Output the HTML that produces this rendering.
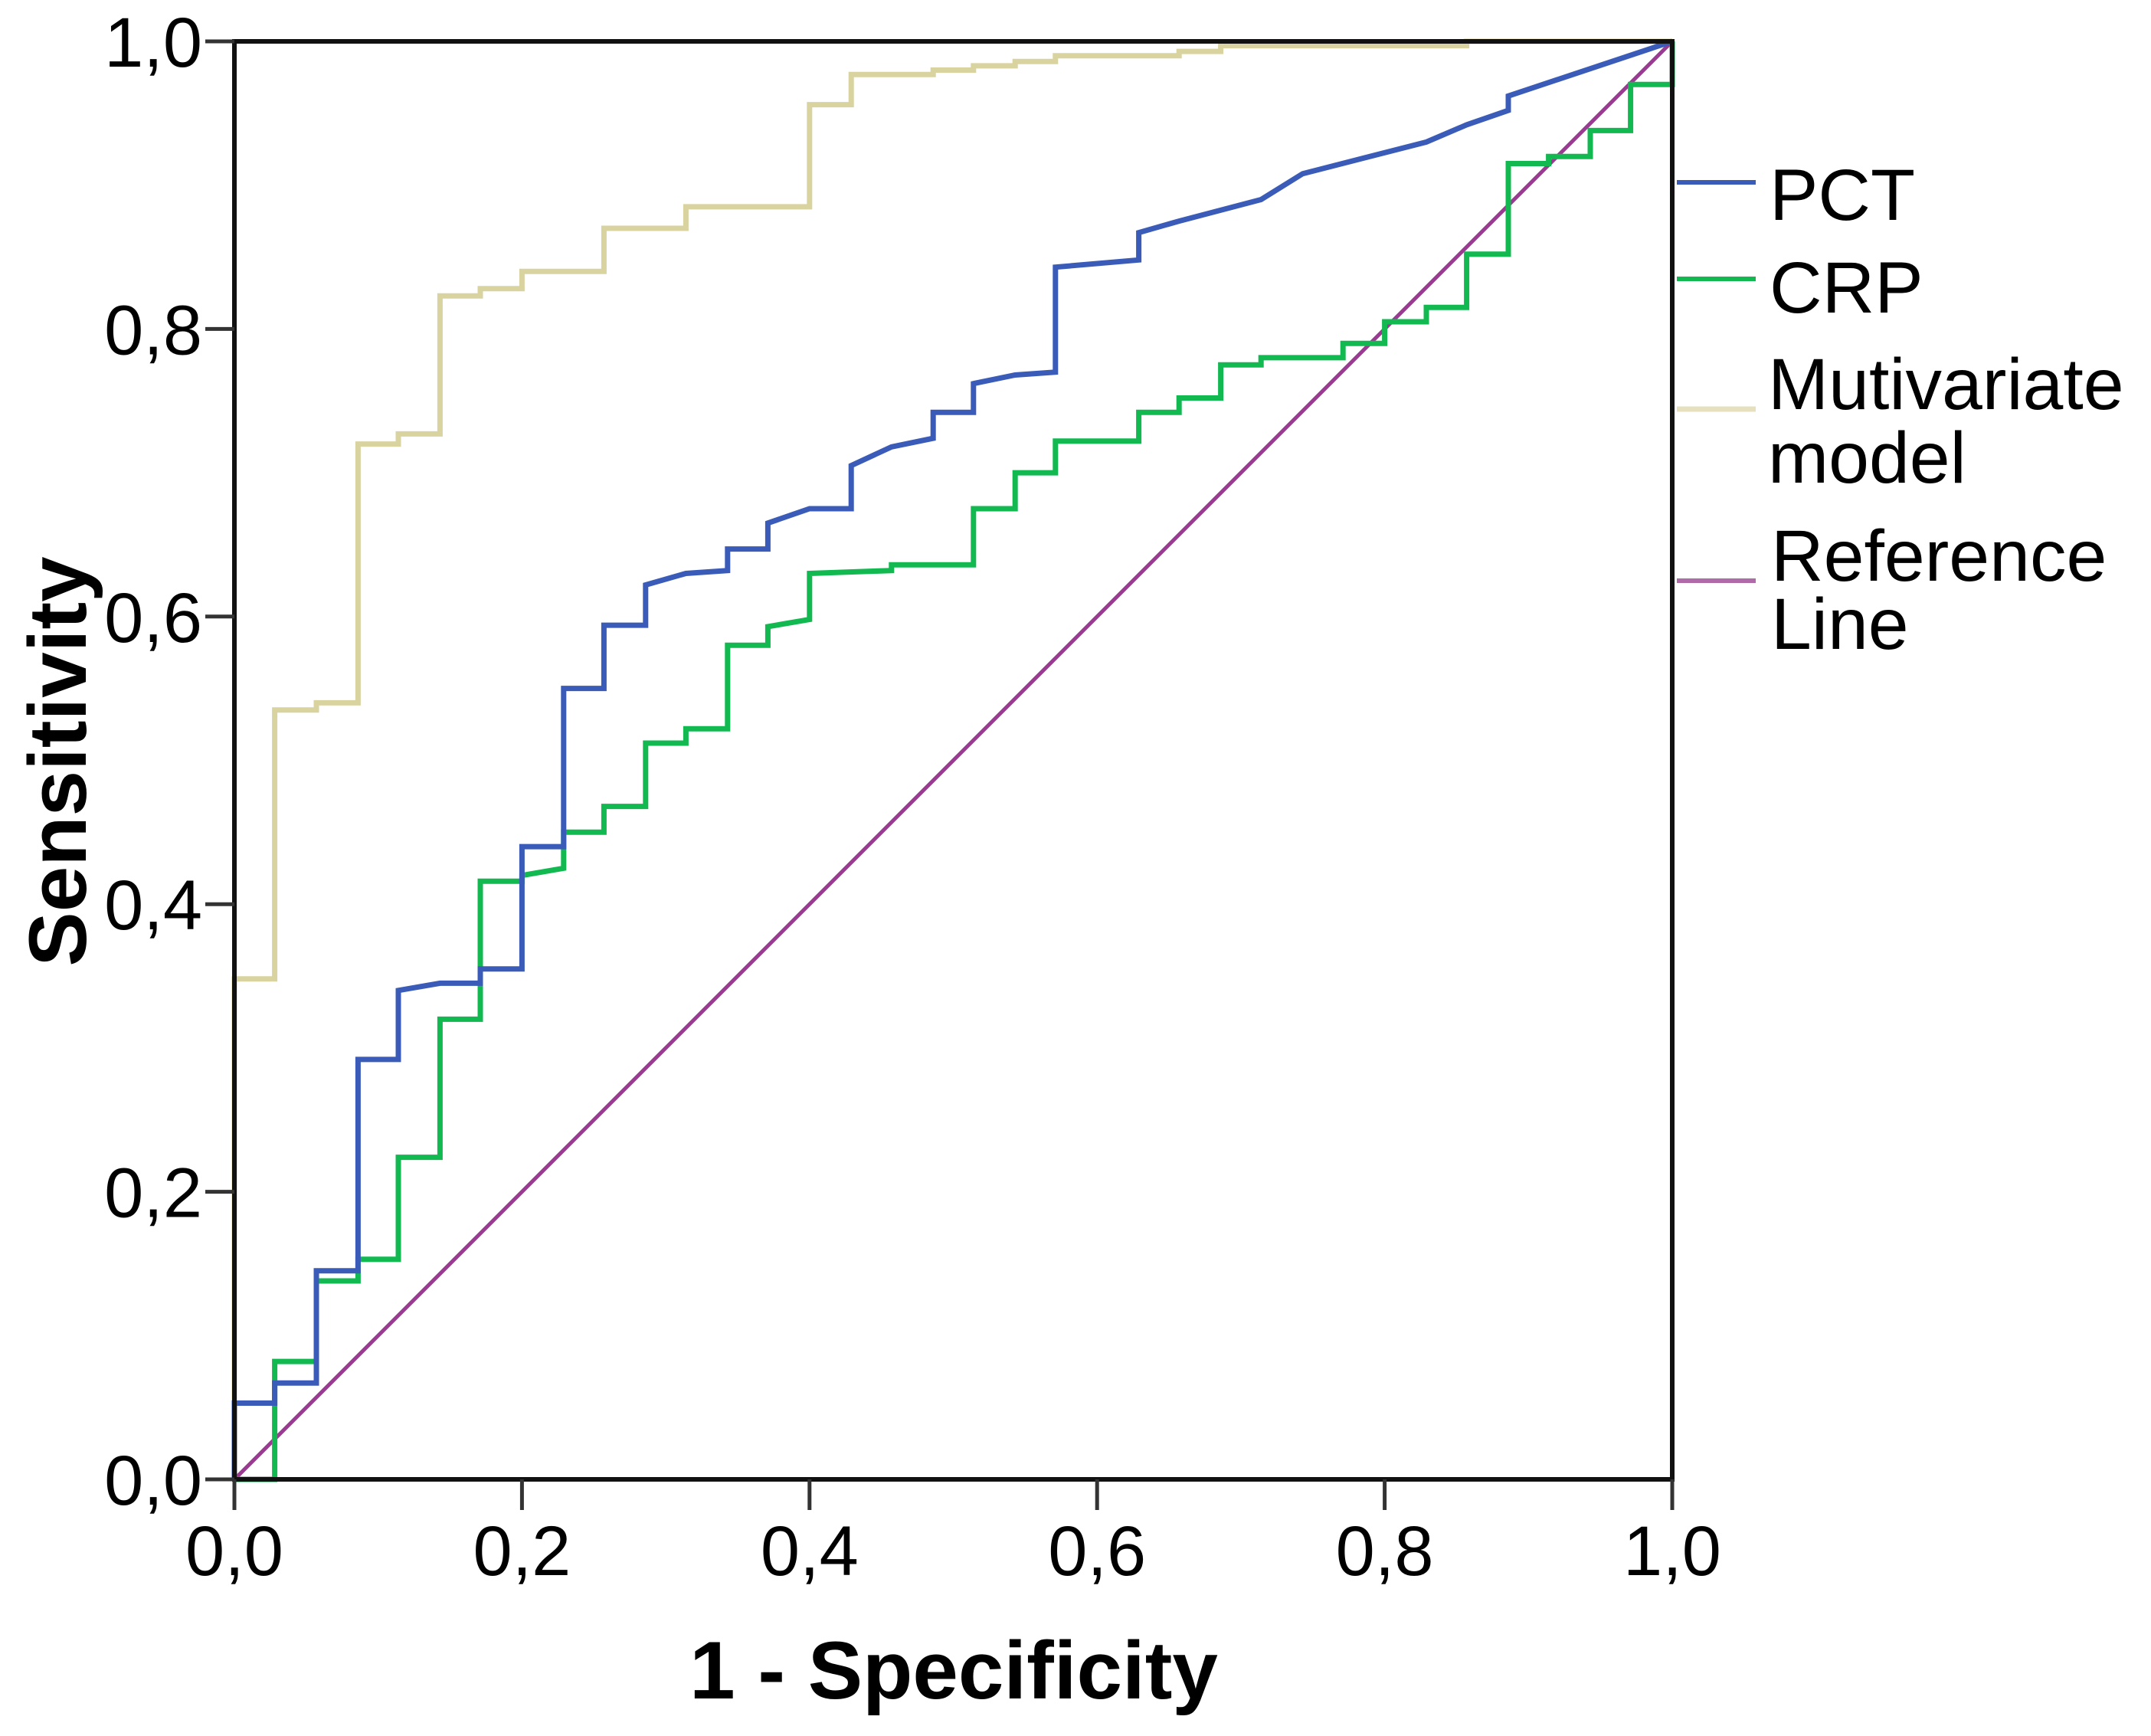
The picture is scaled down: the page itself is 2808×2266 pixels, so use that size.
<!DOCTYPE html>
<html><head><meta charset="utf-8"><style>
html,body{margin:0;padding:0;background:#fff;}
svg{display:block;}
text{font-family:"Liberation Sans",Arial,sans-serif;fill:#000;}
</style></head>
<body>
<svg id="chart" width="2808" height="2266" viewBox="0 0 2808 2266">
<g id="plot"></g>
<g id="axes"></g>
<text x="1245" y="2217" font-size="107" font-weight="bold" text-anchor="middle">1 - Specificity</text>
<text transform="translate(112,994) rotate(-90)" font-size="107" font-weight="bold" text-anchor="middle">Sensitivity</text>
<g>
  <line x1="2189" y1="238" x2="2292" y2="238" stroke="#3a5cb8" stroke-width="6"/>
  <text x="2310" y="287" font-size="95">PCT</text>
  <line x1="2189" y1="364" x2="2292" y2="364" stroke="#12b850" stroke-width="6"/>
  <text x="2310" y="408" font-size="95">CRP</text>
  <line x1="2189" y1="534" x2="2292" y2="534" stroke="#e6e0bf" stroke-width="7"/>
  <text x="2308" y="534" font-size="95">Mutivariate</text>
  <text x="2308" y="630" font-size="95">model</text>
  <line x1="2189" y1="758" x2="2292" y2="758" stroke="#b06aa8" stroke-width="6"/>
  <text x="2312" y="758" font-size="95">Reference</text>
  <text x="2312" y="847" font-size="95">Line</text>
</g>
</svg>
<script>
const tickValues = [0, 0.2, 0.4, 0.6, 0.8, 1.0];
const tickLabels = ["0,0","0,2","0,4","0,6","0,8","1,0"];
const multiFpr = [0,0,0.028,0.028,0.057,0.057,0.086,0.086,0.114,0.114,0.143,0.143,0.171,0.171,0.2,0.2,0.257,0.257,0.314,0.314,0.4,0.4,0.429,0.429,0.486,0.486,0.514,0.514,0.543,0.543,0.571,0.571,0.657,0.657,0.686,0.686,0.857,0.857,1];
const multiTpr = [0,0.348,0.348,0.535,0.535,0.540,0.540,0.720,0.720,0.727,0.727,0.823,0.823,0.828,0.828,0.840,0.840,0.870,0.870,0.885,0.885,0.956,0.956,0.977,0.977,0.980,0.980,0.983,0.983,0.986,0.986,0.990,0.990,0.993,0.993,0.997,0.997,1,1];
const pctFpr = [0,0,0.028,0.028,0.057,0.057,0.086,0.086,0.114,0.114,0.143,0.171,0.171,0.2,0.2,0.229,0.229,0.257,0.257,0.286,0.286,0.314,0.343,0.343,0.371,0.371,0.4,0.429,0.429,0.457,0.486,0.486,0.514,0.514,0.543,0.571,0.571,0.629,0.629,0.657,0.714,0.743,0.829,0.857,0.886,0.886,1];
const pctTpr = [0,0.053,0.053,0.067,0.067,0.145,0.145,0.292,0.292,0.340,0.345,0.345,0.355,0.355,0.44,0.44,0.55,0.55,0.594,0.594,0.622,0.630,0.632,0.647,0.647,0.665,0.675,0.675,0.705,0.718,0.724,0.742,0.742,0.762,0.768,0.770,0.843,0.848,0.867,0.875,0.890,0.908,0.930,0.942,0.952,0.962,1];
const crpFpr = [0,0.028,0.028,0.057,0.057,0.086,0.086,0.114,0.114,0.143,0.143,0.171,0.171,0.2,0.2,0.229,0.229,0.257,0.257,0.286,0.286,0.314,0.314,0.343,0.343,0.371,0.371,0.4,0.4,0.457,0.457,0.514,0.514,0.543,0.543,0.571,0.571,0.629,0.629,0.657,0.657,0.686,0.686,0.714,0.714,0.771,0.771,0.8,0.8,0.829,0.829,0.857,0.857,0.886,0.886,0.914,0.914,0.943,0.943,0.971,0.971,1,1];
const crpTpr = [0,0,0.082,0.082,0.138,0.138,0.153,0.153,0.224,0.224,0.32,0.32,0.416,0.416,0.42,0.425,0.45,0.45,0.468,0.468,0.512,0.512,0.522,0.522,0.58,0.58,0.593,0.598,0.63,0.632,0.636,0.636,0.675,0.675,0.7,0.7,0.722,0.722,0.742,0.742,0.752,0.752,0.775,0.775,0.78,0.78,0.79,0.79,0.805,0.805,0.815,0.815,0.852,0.852,0.915,0.915,0.92,0.92,0.938,0.938,0.97,0.97,1];
const refFpr = [0,1];
const refTpr = [0,1];

const NS = "http://www.w3.org/2000/svg";
const X0 = 306, X1 = 2183, Y0 = 1931, Y1 = 54;
function sx(v){ return X0 + v*(X1-X0); }
function sy(v){ return Y0 - v*(Y0-Y1); }
const plot = document.getElementById('plot');
const axes = document.getElementById('axes');

function mk(tag, attrs, parent){
  const e = document.createElementNS(NS, tag);
  for (const k in attrs) e.setAttribute(k, attrs[k]);
  parent.appendChild(e);
  return e;
}
function series(xs, ys, color, w, name){
  const pts = xs.map((x,i)=>sx(x).toFixed(1)+","+sy(ys[i]).toFixed(1)).join(" ");
  const p = mk('polyline', {points:pts, fill:'none', stroke:color, 'stroke-width':w, 'stroke-linejoin':'miter'}, plot);
  
  
}
series(multiFpr, multiTpr, '#d9d3a0', 7, 'multivariate-curve');
series(refFpr, refTpr, '#9b3a93', 5, 'reference-line');
series(crpFpr, crpTpr, '#12b850', 7, 'crp-curve');
series(pctFpr, pctTpr, '#3a5cb8', 7, 'pct-curve');

const frame = mk('rect', {x:X0, y:Y1, width:X1-X0, height:Y0-Y1, fill:'none', stroke:'#111', 'stroke-width':6}, axes);



tickValues.forEach((v,i)=>{
  const yt = mk('line', {x1:X0-38, y1:sy(v), x2:X0, y2:sy(v), stroke:'#333', 'stroke-width':5}, axes);
  
  
  const yl = mk('text', {x:X0-42, y:sy(v)+33, 'font-size':92, 'text-anchor':'end'}, axes);
  yl.textContent = tickLabels[i];
  
  
  const xt = mk('line', {x1:sx(v), y1:Y0, x2:sx(v), y2:Y0+40, stroke:'#333', 'stroke-width':5}, axes);
  
  
  const xl = mk('text', {x:sx(v), y:2056, 'font-size':92, 'text-anchor':'middle'}, axes);
  xl.textContent = tickLabels[i];
  
  
});
</script>
</body></html>
